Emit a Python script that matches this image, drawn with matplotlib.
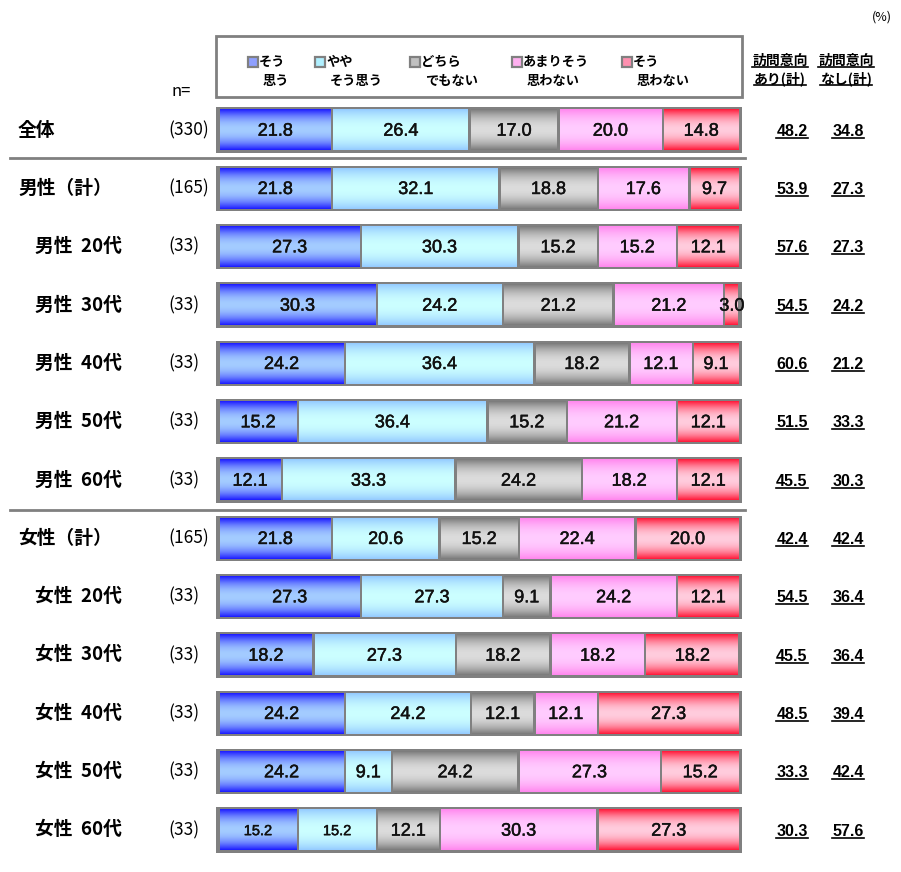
import matplotlib
matplotlib.use("Agg")
import matplotlib.pyplot as plt
import numpy as np
from matplotlib.lines import Line2D
from matplotlib.patches import Rectangle
import matplotlib.transforms as mtransforms
import matplotlib.patheffects as pe

plt.rcParams['font.family'] = ['Noto Sans CJK JP', 'DejaVu Sans']

# ---- data ----
row_labels = ["全体", "男性（計）", "男性  20代", "男性  30代", "男性  40代", "男性  50代", "男性  60代",
              "女性（計）", "女性  20代", "女性  30代", "女性  40代", "女性  50代", "女性  60代"]
indented = [False, False, True, True, True, True, True, False, True, True, True, True, True]
n_values = [330, 165, 33, 33, 33, 33, 33, 165, 33, 33, 33, 33, 33]
categories = ["そう\n思う", "やや\nそう思う", "どちら\nでもない", "あまりそう\n思わない", "そう\n思わない"]
sou_omou = [21.8, 21.8, 27.3, 30.3, 24.2, 15.2, 12.1, 21.8, 27.3, 18.2, 24.2, 24.2, 15.2]
yaya = [26.4, 32.1, 30.3, 24.2, 36.4, 36.4, 33.3, 20.6, 27.3, 27.3, 24.2, 9.1, 15.2]
dochira = [17.0, 18.8, 15.2, 21.2, 18.2, 15.2, 24.2, 15.2, 9.1, 18.2, 12.1, 24.2, 12.1]
amari = [20.0, 17.6, 15.2, 21.2, 12.1, 21.2, 18.2, 22.4, 24.2, 18.2, 12.1, 27.3, 30.3]
sou_omowanai = [14.8, 9.7, 12.1, 3.0, 9.1, 12.1, 12.1, 20.0, 12.1, 18.2, 27.3, 15.2, 27.3]
ari_total = [48.2, 53.9, 57.6, 54.5, 60.6, 51.5, 45.5, 42.4, 54.5, 45.5, 48.5, 33.3, 30.3]
nashi_total = [34.8, 27.3, 27.3, 24.2, 21.2, 33.3, 30.3, 42.4, 36.4, 36.4, 39.4, 42.4, 57.6]

series = np.array([sou_omou, yaya, dochira, amari, sou_omowanai]).T

# gradient colours (edge, centre)
grad_colors = [("#1e1eff", "#a4ccff"),
               ("#96ccff", "#ccffff"),
               ("#7c7c7c", "#dcdcdc"),
               ("#ff88ee", "#ffccff"),
               ("#ff1c3c", "#ffccdd")]
legend_colors = ["#8fa0ff", "#b0f0ff", "#c0c0c0", "#ffb0f0", "#ff90b0"]

W, H = 901, 872
fig = plt.figure(figsize=(W / 100, H / 100), dpi=100)

def fx(x):
    return x / W

def fy(y):
    return 1 - y / H

# bar axes: x 216..742 px, rows centred from y=130 with 58.33 px spacing
nrows = len(row_labels)
step = 58.33
top = 130 - step / 2
bottom = top + nrows * step
ax = fig.add_axes([fx(216), fy(bottom), fx(742) - fx(216), (bottom - top) / H])
pad = 0.45
ax.axis("off")

def hex2rgb(h):
    return np.array(matplotlib.colors.to_rgb(h))

t = np.abs(np.linspace(-1, 1, 48)) ** 2.0
grads = []
for dark, light in grad_colors:
    d, l = hex2rgb(dark), hex2rgb(light)
    grads.append((l[None, :] + (d - l)[None, :] * t[:, None])[:, None, :])

frame_h = 0.78
seg_h = 0.70
gap = 0.28
num_font = ["Liberation Sans", "DejaVu Sans"]
semibold = [pe.withStroke(linewidth=0.35, foreground="#111111")]
for i in range(nrows):
    ax.barh(i, 100 + 2 * pad, left=-pad, height=frame_h, color="#808080", zorder=1)
    vals = series[i]
    norm = vals / vals.sum() * 100
    lefts = np.concatenate([[0], np.cumsum(norm)[:-1]])
    for j in range(5):
        l, w = lefts[j], norm[j]
        ax.imshow(grads[j], extent=[l + gap, l + w - gap, i + seg_h / 2, i - seg_h / 2],
                  aspect="auto", zorder=2, interpolation="bilinear")
        fs = 10.5 if (i == nrows - 1 and j < 2) else 13
        ax.text(l + w / 2, i + 0.02, f"{vals[j]:.1f}", ha="center", va="center",
                fontsize=fs, family=num_font, color="#111111", zorder=3,
                path_effects=semibold)
ax.set_xlim(-pad, 100 + pad)
ax.set_ylim(nrows - 0.5, -0.5)

# row labels, n, right-hand totals
tr = mtransforms.blended_transform_factory(fig.transFigure, ax.transData)
underlined = []
for i in range(nrows):
    x0 = 35 if indented[i] else 18
    ax.text(fx(x0), i, row_labels[i], transform=tr, ha="left", va="center",
            fontsize=13.5, fontweight="bold")
    ax.text(fx(168), i, f"({n_values[i]})", transform=tr, ha="left", va="center",
            fontsize=12.5)
    for xc, v in ((792, ari_total[i]), (848, nashi_total[i])):
        underlined.append(ax.text(fx(xc), i + 0.02, f"{v:.1f}", transform=tr, ha="center",
                                  va="center", fontsize=11.5, fontweight="bold", family=num_font))

# separators
for ysep in (158, 510):
    fig.add_artist(Line2D([fx(10), fx(745)], [fy(ysep), fy(ysep)], color="#808080", lw=2))

# header
fig.text(fx(181), fy(92), "n=", ha="center", va="center", fontsize=12)
fig.text(fx(882), fy(17), "(%)", ha="center", va="center", fontsize=9)
headers = [(780, "訪問意向", "あり(計)"), (846, "訪問意向", "なし(計)")]
for xc, l1, l2 in headers:
    underlined.append(fig.text(fx(xc), fy(61), l1, ha="center", va="center", fontsize=10,
                               fontweight="bold"))
    underlined.append(fig.text(fx(xc), fy(79), l2, ha="center", va="center", fontsize=10,
                               fontweight="bold"))

# legend box
fig.add_artist(Rectangle((fx(216), fy(97)), fx(742) - fx(216), (97 - 36) / H,
                         fill=False, edgecolor="#808080", lw=2))
legend_x = [253, 320, 415, 517, 627]
for xm, lab, c in zip(legend_x, categories, legend_colors):
    first, second = lab.split("\n")
    fig.add_artist(Line2D([fx(xm)], [fy(62)], marker="s", markersize=6.5,
                          markerfacecolor=c, markeredgecolor="#808080", markeredgewidth=1.6))
    fig.text(fx(xm + 6), fy(62), first, ha="left", va="center", fontsize=9.5, fontweight="bold")
    fig.text(fx(xm + 10), fy(81), second, ha="left", va="center", fontsize=9.5, fontweight="bold")

# underlines
fig.canvas.draw()
renderer = fig.canvas.get_renderer()
for txt in underlined:
    bb = txt.get_window_extent(renderer)
    y = bb.y0 + 1
    fig.add_artist(Line2D([bb.x0, bb.x1], [y, y], transform=None, color="black", lw=1.2))

fig.savefig("out.png", dpi=100)
